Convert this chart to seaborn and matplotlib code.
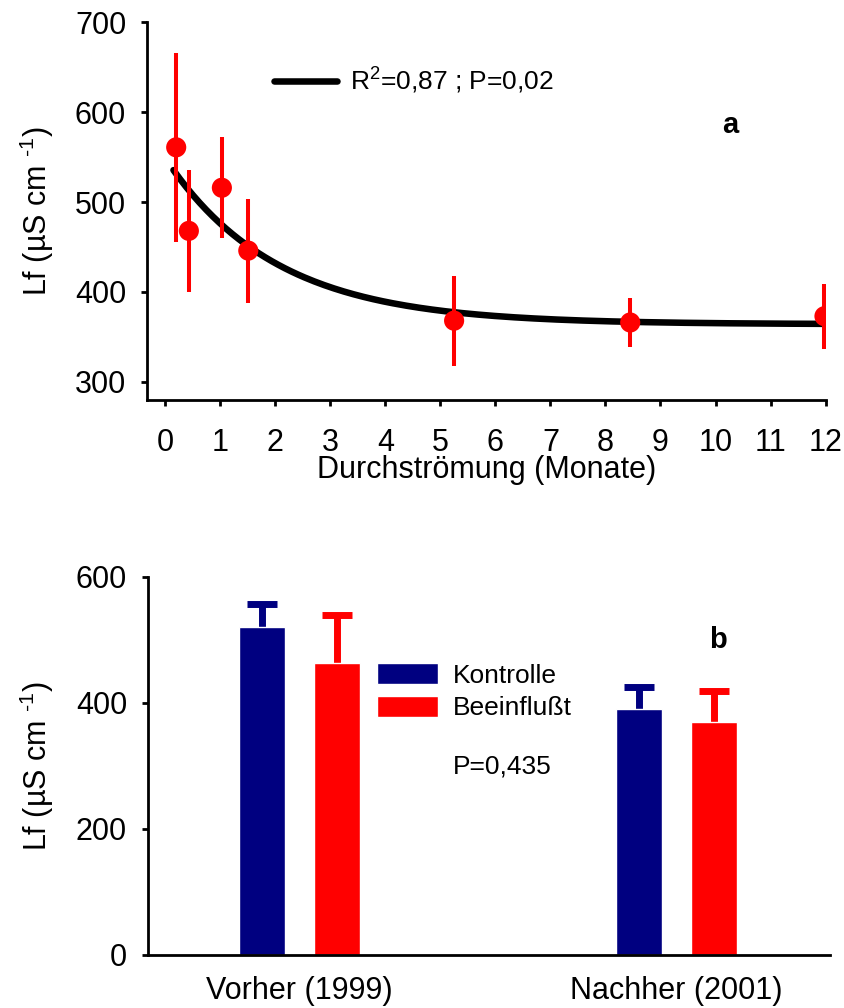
import numpy as np
import pandas as pd
import seaborn as sns
import matplotlib.pyplot as plt
from matplotlib.lines import Line2D

# panel a: conductivity vs. months of flow-through
months = [0.2, 0.43, 1.03, 1.51, 5.25, 8.45, 11.98]
lf_mean = [561, 468, 516, 446, 368, 366, 373]
lf_err = [105, 68, 56, 58, 50, 27, 36]

# exponential decay fit: y = y0 + a * exp(-b * x)
fit_y0 = 364
fit_a = 185
fit_b = 0.5
fit_x_start = 0.15
fit_x_end = 12

# panel b: bars
periods = ["Vorher (1999)", "Nachher (2001)"]
groups = ["Kontrolle", "Beeinflußt"]
bar_kontrolle = [520, 390]
bar_beeinflusst = [463, 370]
err_kontrolle = [36, 35]
err_beeinflusst = [76, 49]

navy = "#000080"
red = "#ff0000"

sns.set_style("ticks")
plt.rcParams["font.family"] = ["Liberation Sans", "DejaVu Sans"]
plt.rcParams["mathtext.fontset"] = "custom"
plt.rcParams["mathtext.rm"] = "Liberation Sans"
plt.rcParams["mathtext.it"] = "Liberation Sans:italic"
plt.rcParams["mathtext.bf"] = "Liberation Sans:bold"
plt.rcParams["text.color"] = "black"
plt.rcParams["axes.labelcolor"] = "black"
plt.rcParams["xtick.color"] = "black"
plt.rcParams["ytick.color"] = "black"
plt.rcParams["axes.edgecolor"] = "black"
plt.rcParams["axes.linewidth"] = 2
plt.rcParams["xtick.major.width"] = 2
plt.rcParams["ytick.major.width"] = 2
plt.rcParams["xtick.major.size"] = 4
plt.rcParams["ytick.major.size"] = 4

ylab = r"Lf (µS cm $^{\text{-1}}$)"

fig = plt.figure(figsize=(8.45, 10.08), dpi=100)
ax1 = fig.add_axes([0.174, 0.603, 0.803, 0.3747])
ax2 = fig.add_axes([0.175, 0.0526, 0.807, 0.3753])

# ---- panel a ----
xs = np.linspace(fit_x_start, fit_x_end, 200)
fit_df = pd.DataFrame({"x": xs, "y": fit_y0 + fit_a * np.exp(-fit_b * xs)})
sns.lineplot(data=fit_df, x="x", y="y", ax=ax1, color="black", linewidth=4.7,
             solid_capstyle="round", zorder=2)

ax1.errorbar(months, lf_mean, yerr=lf_err, fmt="none", ecolor=red,
             elinewidth=2.9, capsize=0, zorder=3)
pts = pd.DataFrame({"m": months, "lf": lf_mean})
sns.scatterplot(data=pts, x="m", y="lf", ax=ax1, color=red, s=210,
                edgecolor="none", zorder=4, legend=False)

ax1.set_xlim(-0.33, 12)
ax1.set_ylim(279.5, 700)
ax1.set_xticks(range(0, 13))
ax1.set_yticks([300, 400, 500, 600, 700])
ax1.tick_params(axis="both", labelsize=22)
ax1.tick_params(axis="x", pad=16)
ax1.tick_params(axis="y", pad=11)
ax1.set_xlabel("Durchströmung (Monate)", fontsize=22, labelpad=-2)
ax1.set_ylabel(ylab, fontsize=22, labelpad=14)
sns.despine(ax=ax1)

fit_handle = Line2D([0], [0], color="black", linewidth=4.7, solid_capstyle="round")
ax1.legend([fit_handle], [r"R$^{2}$=0,87 ; P=0,02"], loc="center left",
           bbox_to_anchor=(0.187, 0.845), frameon=False, fontsize=19,
           handlelength=2.4, handletextpad=0.5, borderpad=0, borderaxespad=0)
ax1.text(0.86, 0.728, "a", transform=ax1.transAxes, fontsize=21,
         fontweight="bold", ha="center", va="center")

# ---- panel b ----
bars_df = pd.DataFrame({
    "period": periods * 2,
    "group": [groups[0]] * 2 + [groups[1]] * 2,
    "value": bar_kontrolle + bar_beeinflusst,
})
sns.barplot(data=bars_df, x="period", y="value", hue="group", order=periods,
            hue_order=groups, palette=[navy, red], saturation=1, width=0.4,
            gap=0.39, errorbar=None, ax=ax2, zorder=2)

# upper error bars only: the lower half sits behind the bar
for cont, errs, col in zip(ax2.containers, [err_kontrolle, err_beeinflusst], [navy, red]):
    xc = [p.get_x() + p.get_width() / 2 for p in cont.patches]
    hs = [p.get_height() for p in cont.patches]
    ax2.errorbar(xc, hs, yerr=errs, fmt="none", ecolor=col, elinewidth=5,
                 capsize=11, capthick=5, zorder=1)

ax2.set_xlim(-0.403, 1.406)
ax2.set_ylim(0, 600)
ax2.set_yticks([0, 200, 400, 600])
ax2.tick_params(axis="both", labelsize=22)
ax2.tick_params(axis="x", length=0, pad=15)
ax2.tick_params(axis="y", pad=11)
ax2.set_xlabel("")
ax2.set_ylabel(ylab, fontsize=22, labelpad=14)
sns.despine(ax=ax2)

ax2.legend(loc="upper left", bbox_to_anchor=(0.336, 0.772), frameon=False,
           fontsize=19, handlelength=2.3, handleheight=0.85, handletextpad=0.57,
           labelspacing=0.3, borderpad=0, borderaxespad=0)
ax2.text(0.447, 0.497, "P=0,435", transform=ax2.transAxes, fontsize=19,
         ha="left", va="center")
ax2.text(0.836, 0.833, "b", transform=ax2.transAxes, fontsize=21,
         fontweight="bold", ha="center", va="center")

fig.savefig("out.png", dpi=100)
